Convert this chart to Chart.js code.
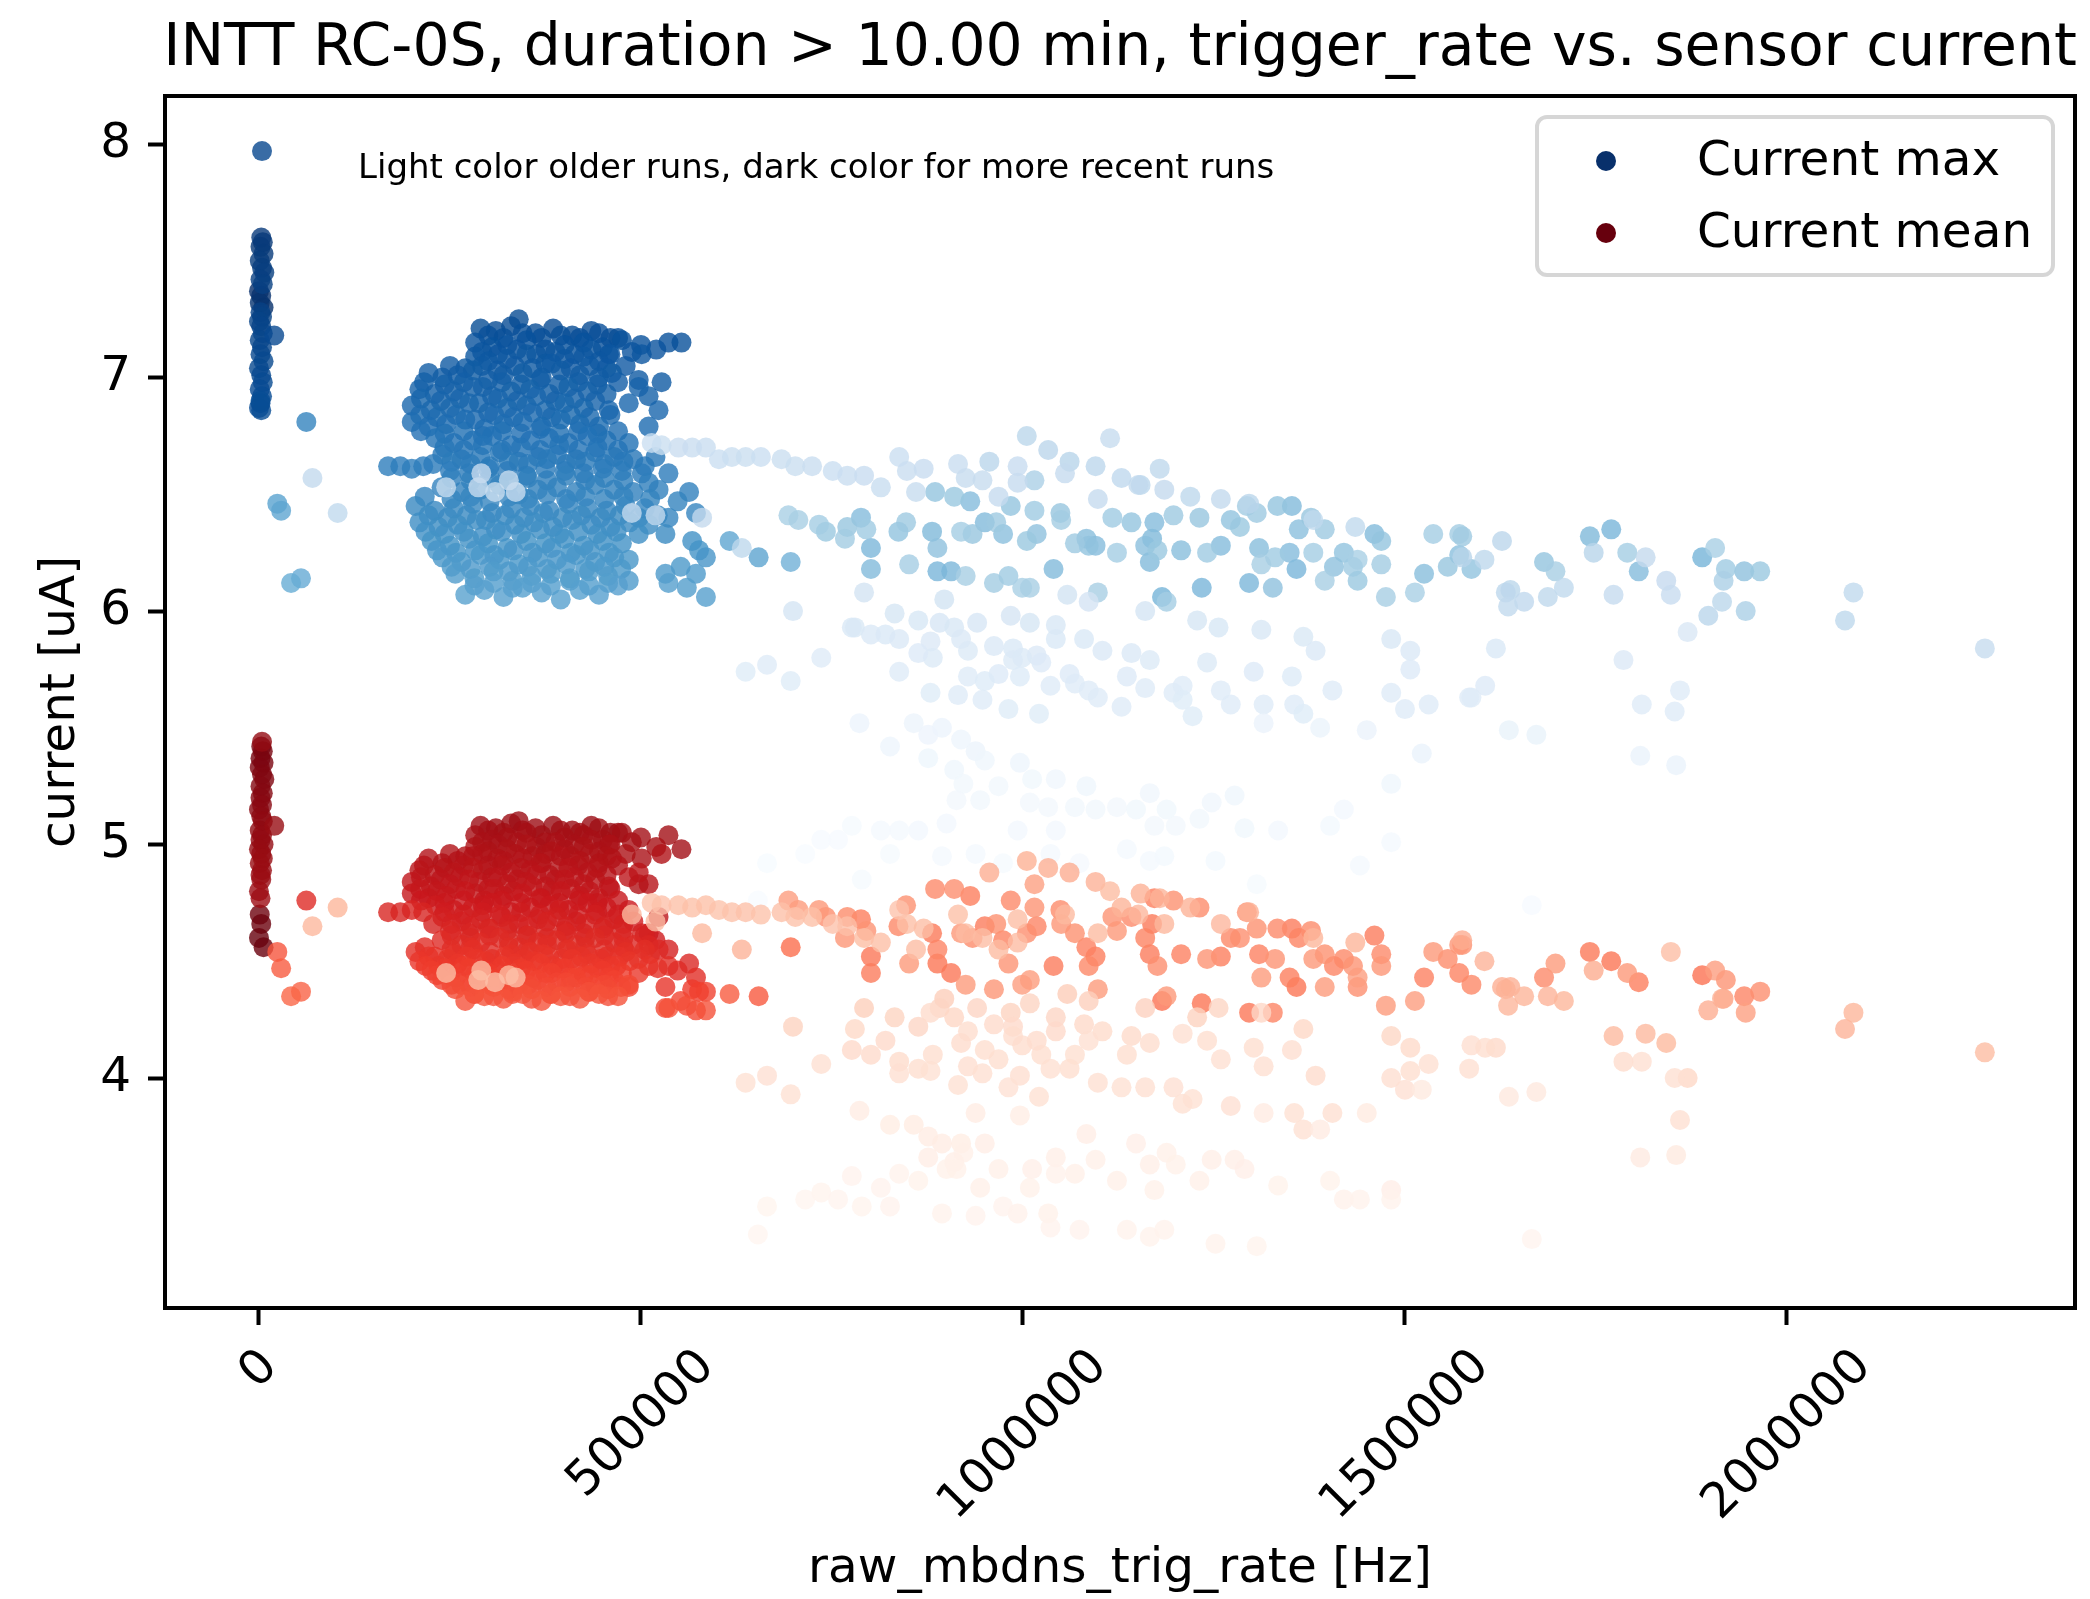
<!DOCTYPE html>
<html>
<head>
<meta charset="utf-8">
<script src="https://cdn.jsdelivr.net/npm/chart.js"></script>
<style>
  html, body { margin: 0; padding: 0; background: #fff; }
  #myChart { display: block; }
</style>
</head>
<body>
<canvas id="myChart" width="2090" height="1599"></canvas>
<script>
// ---- data: one entry per run (trigger rate, max current, mean current, run number) ----
// oldest runs
const rateP1 = [653000, 665000, 715000, 736000, 758000, 776000, 786000, 789000, 814000, 826000,
  826000, 838000, 857000, 863000, 876000, 876000, 894000, 894000, 900000, 910000,
  913000, 919000, 922000, 938000, 938000, 944000, 950000, 968000, 974000, 993000,
  996000, 1009000, 1012000, 1033000, 1036000, 1043000, 1043000, 1068000, 1074000, 1083000,
  1095000, 1123000, 1136000, 1148000, 1166000, 1166000, 1172000, 1185000, 1188000, 1200000,
  1231000, 1247000, 1252000, 1277000, 1290000, 1306000, 1315000, 1334000, 1389000, 1402000,
  1420000, 1441000, 1450000, 1482000, 1482000, 1522000, 1636000, 1666000, 1672000, 1808000,
  1855000];
const maxP1 = [4.76, 4.92, 4.96, 5.02, 5.02, 5.08, 5.52, 4.85, 5.06, 5.42,
  4.96, 5.06, 5.52, 5.06, 5.47, 5.37, 5.50, 4.95, 5.09, 5.32,
  5.19, 5.45, 5.26, 5.40, 4.96, 5.19, 5.36, 5.25, 4.92, 5.06,
  5.35, 5.18, 5.28, 5.16, 4.96, 5.28, 5.06, 5.16, 4.92, 5.25,
  5.15, 5.16, 4.98, 5.15, 5.22, 4.93, 5.08, 4.95, 5.15, 5.08,
  5.11, 5.18, 4.93, 5.21, 5.07, 4.83, 5.52, 5.06, 5.50, 5.08,
  5.15, 4.91, 5.49, 5.26, 5.01, 5.39, 5.49, 4.74, 5.47, 5.38,
  5.34];
const meanP1 = [3.33, 3.45, 3.48, 3.51, 3.48, 3.58, 3.86, 3.45, 3.53, 3.80,
  3.45, 3.59, 3.80, 3.56, 3.75, 3.66, 3.72, 3.42, 3.61, 3.64,
  3.61, 3.72, 3.68, 3.85, 3.41, 3.53, 3.72, 3.61, 3.45, 3.42,
  3.84, 3.53, 3.61, 3.42, 3.36, 3.66, 3.59, 3.59, 3.35, 3.76,
  3.65, 3.56, 3.35, 3.72, 3.63, 3.32, 3.52, 3.35, 3.68, 3.63,
  3.56, 3.65, 3.29, 3.65, 3.61, 3.28, 3.85, 3.54, 3.78, 3.56,
  3.48, 3.48, 3.85, 3.52, 3.48, 3.95, 3.92, 3.31, 3.94, 3.66,
  3.67];
const runP1 = [41000, 41040, 41020, 41090, 41060, 41130, 41710, 41110, 41180, 41650,
  41150, 41230, 41760, 41270, 41690, 41580, 41730, 41200, 41310, 41520,
  41350, 41670, 41400, 41740, 41170, 41380, 41560, 41420, 41140, 41290,
  41620, 41360, 41450, 41330, 41190, 41480, 41300, 41390, 41160, 41540,
  41410, 41370, 41210, 41470, 41500, 41220, 41340, 41240, 41440, 41320,
  41430, 41490, 41250, 41510, 41460, 41120, 41800, 41280, 41780, 41260,
  41300, 41230, 41820, 41530, 41210, 41900, 41950, 41080, 42000, 41850,
  41880];

// older runs
const rateP2 = [637000, 665000, 696000, 699000, 736000, 776000, 780000, 792000, 801000, 820000,
  832000, 838000, 838000, 863000, 863000, 879000, 879000, 882000, 891000, 897000,
  910000, 915000, 919000, 928000, 928000, 940000, 947000, 950000, 962000, 968000,
  981000, 984000, 987000, 987000, 996000, 999000, 1009000, 1018000, 1021000, 1024000,
  1036000, 1043000, 1043000, 1058000, 1061000, 1068000, 1080000, 1086000, 1086000, 1098000,
  1104000, 1129000, 1136000, 1142000, 1160000, 1160000, 1166000, 1197000, 1209000, 1209000,
  1222000, 1228000, 1241000, 1256000, 1259000, 1272000, 1302000, 1312000, 1315000, 1352000,
  1355000, 1367000, 1367000, 1383000, 1405000, 1482000, 1482000, 1500000, 1507000, 1507000,
  1531000, 1584000, 1587000, 1605000, 1619000, 1786000, 1810000, 1853000, 1860000, 1870000];
const maxP2 = [5.74, 5.77, 5.70, 6.00, 5.80, 5.93, 5.93, 6.08, 5.90, 5.90,
  5.99, 5.88, 5.74, 5.96, 5.82, 5.87, 5.65, 5.80, 5.95, 6.05,
  5.93, 5.64, 5.88, 5.83, 5.72, 5.95, 5.62, 5.70, 5.85, 5.73,
  5.58, 5.98, 5.79, 5.84, 5.72, 5.80, 5.95, 5.81, 5.56, 5.78,
  5.68, 5.94, 5.88, 6.07, 5.73, 5.69, 5.88, 6.04, 5.66, 5.63,
  5.83, 5.59, 5.72, 5.82, 6.00, 5.67, 5.79, 5.65, 5.62, 5.68,
  5.55, 5.96, 5.78, 5.93, 5.66, 5.60, 5.74, 5.92, 5.60, 5.72,
  5.60, 5.89, 5.56, 5.83, 5.66, 5.88, 5.65, 5.58, 5.83, 5.75,
  5.60, 5.63, 5.63, 5.68, 5.84, 5.79, 5.60, 5.57, 5.66, 5.91];
const meanP2 = [3.98, 4.01, 3.93, 4.22, 4.06, 4.12, 4.21, 4.30, 4.10, 4.16,
  4.26, 4.07, 4.02, 4.22, 4.04, 4.28, 4.03, 4.10, 4.30, 4.34,
  4.26, 3.97, 4.15, 4.20, 4.05, 4.30, 4.02, 4.12, 4.23, 4.08,
  3.96, 4.28, 4.18, 4.22, 4.01, 4.14, 4.32, 4.16, 3.92, 4.10,
  4.04, 4.26, 4.20, 4.36, 4.04, 4.10, 4.23, 4.33, 4.16, 3.98,
  4.20, 3.96, 4.10, 4.18, 4.30, 3.96, 4.15, 3.96, 3.89, 4.19,
  3.91, 4.26, 4.16, 4.30, 4.08, 3.88, 4.13, 4.28, 4.05, 4.12,
  3.85, 4.21, 3.78, 4.01, 3.85, 4.18, 4.00, 3.95, 4.13, 4.03,
  4.06, 4.04, 4.14, 4.13, 4.13, 4.07, 4.07, 4.00, 3.82, 4.00];
const runP2 = [42610, 42650, 42630, 43300, 42700, 42980, 43020, 43450, 42900, 42940,
  43250, 42880, 42680, 43150, 42760, 42850, 42620, 42800, 43200, 43500,
  43100, 42640, 42870, 42840, 42720, 43180, 42660, 42740, 42910, 42780,
  42600, 43280, 42820, 42960, 42730, 42830, 43220, 42860, 42620, 42790,
  42700, 43130, 42950, 43550, 42750, 42710, 43000, 43420, 42690, 42670,
  42890, 42640, 42760, 42920, 43350, 42680, 42810, 42650, 42630, 42700,
  42610, 43260, 42800, 43160, 42690, 42650, 42770, 43080, 42660, 42730,
  42640, 43050, 42620, 42870, 42700, 43120, 42720, 42650, 42930, 42780,
  42680, 42700, 42720, 42780, 42990, 42850, 42690, 42660, 42700, 43060];

// light band
const rateP3 = [70000, 103000, 245000, 287000, 291000, 309000, 327000, 336000, 488000, 519000,
  580000, 632000, 514000, 527000, 549000, 567000, 585000, 602000, 619000, 637000,
  657000, 684000, 702000, 724000, 751000, 770000, 792000, 814000, 838000, 848000,
  860000, 870000, 915000, 925000, 947000, 956000, 968000, 993000, 993000, 1005000,
  1033000, 1055000, 1061000, 1095000, 1098000, 1114000, 1129000, 1151000, 1154000, 1179000,
  1185000, 1219000, 1259000, 1296000, 1380000, 1435000, 1575000, 1604000, 1627000, 1632000,
  1635000, 1638000, 1656000, 1687000, 1708000, 1747000, 1773000, 1815000, 1842000, 1848000,
  1897000, 1915000];
const maxP3 = [6.57, 6.42, 6.53, 6.53, 6.59, 6.51, 6.56, 6.51, 6.42, 6.41,
  6.40, 6.27, 6.72, 6.71, 6.70, 6.70, 6.70, 6.65, 6.66, 6.66,
  6.66, 6.65, 6.62, 6.62, 6.60, 6.58, 6.58, 6.53, 6.66, 6.60,
  6.51, 6.61, 6.63, 6.57, 6.56, 6.64, 6.49, 6.62, 6.55, 6.75,
  6.69, 6.59, 6.64, 6.62, 6.48, 6.74, 6.57, 6.54, 6.54, 6.61,
  6.52, 6.49, 6.48, 6.46, 6.39, 6.36, 6.23, 6.22, 6.30, 6.08,
  6.02, 6.09, 6.04, 6.06, 6.10, 6.25, 6.07, 6.23, 6.13, 6.07,
  5.98, 6.04];
const meanP3 = [4.65, 4.73, 4.45, 4.42, 4.46, 4.41, 4.44, 4.43, 4.70, 4.67,
  4.62, 4.55, 4.75, 4.74, 4.74, 4.73, 4.74, 4.72, 4.71, 4.71,
  4.70, 4.71, 4.69, 4.69, 4.66, 4.65, 4.60, 4.58, 4.72, 4.66,
  4.55, 4.64, 4.70, 4.62, 4.60, 4.88, 4.55, 4.68, 4.58, 4.93,
  4.90, 4.70, 4.88, 4.84, 4.62, 4.80, 4.73, 4.70, 4.79, 4.77,
  4.66, 4.73, 4.66, 4.71, 4.60, 4.58, 4.59, 4.50, 4.39, 4.38,
  4.31, 4.39, 4.35, 4.35, 4.33, 4.46, 4.18, 4.19, 4.15, 4.54,
  4.29, 4.34];
const runP3 = [44500, 44600, 44200, 44150, 44250, 44100, 44300, 44180, 44400, 44350,
  44450, 44700, 44050, 44080, 44120, 44160, 44140, 44020, 44060, 44090,
  44030, 44110, 44070, 44130, 44040, 44170, 44260, 44210, 44010, 44190,
  44280, 44230, 44150, 44320, 44270, 44900, 44380, 44240, 44340, 44800,
  44850, 44420, 44950, 44750, 44360, 44300, 44650, 44550, 44780, 44680,
  44480, 44720, 44520, 44880, 44580, 44620, 44960, 44700, 44850, 44760,
  44540, 44820, 44640, 44690, 44600, 44980, 44400, 44460, 44430, 44250,
  44900, 44820];

// mid-period runs spread over high rates
const rateP4 = [616000, 654000, 693000, 696000, 706000, 733000, 742000, 767000, 770000, 788000,
  795000, 801000, 801000, 837000, 847000, 851000, 881000, 885000, 888000, 888000,
  906000, 910000, 919000, 925000, 931000, 934000, 950000, 962000, 965000, 974000,
  981000, 984000, 999000, 1005000, 1009000, 1015000, 1015000, 1018000, 1040000, 1049000,
  1050000, 1068000, 1083000, 1086000, 1095000, 1098000, 1117000, 1123000, 1142000, 1160000,
  1166000, 1169000, 1172000, 1176000, 1182000, 1188000, 1197000, 1207000, 1231000, 1234000,
  1241000, 1259000, 1272000, 1284000, 1293000, 1296000, 1306000, 1309000, 1312000, 1327000,
  1330000, 1333000, 1349000, 1352000, 1358000, 1361000, 1377000, 1380000, 1395000, 1395000,
  1407000, 1420000, 1432000, 1438000, 1438000, 1460000, 1469000, 1469000, 1475000, 1513000,
  1525000, 1537000, 1556000, 1571000, 1571000, 1575000, 1587000, 1682000, 1697000, 1742000,
  1770000, 1791000, 1806000, 1889000, 1906000, 1917000, 1920000, 1944000, 1946000, 1965000,
  2076000, 2087000, 2259000];
const maxP4 = [6.30, 6.23, 6.41, 6.21, 6.39, 6.37, 6.34, 6.31, 6.36, 6.40,
  6.35, 6.27, 6.18, 6.34, 6.38, 6.20, 6.34, 6.51, 6.27, 6.17,
  6.17, 6.49, 6.34, 6.15, 6.47, 6.33, 6.38, 6.12, 6.38, 6.33,
  6.15, 6.45, 6.10, 6.30, 6.10, 6.56, 6.43, 6.33, 6.18, 6.42,
  6.39, 6.29, 6.31, 6.28, 6.28, 6.08, 6.40, 6.25, 6.38, 6.28,
  6.21, 6.31, 6.38, 6.26, 6.06, 6.04, 6.41, 6.26, 6.40, 6.10,
  6.25, 6.28, 6.39, 6.36, 6.45, 6.12, 6.42, 6.27, 6.20, 6.10,
  6.23, 6.45, 6.25, 6.45, 6.18, 6.35, 6.40, 6.25, 6.35, 6.13,
  6.19, 6.25, 6.19, 6.22, 6.13, 6.33, 6.30, 6.20, 6.06, 6.08,
  6.16, 6.33, 6.19, 6.33, 6.24, 6.32, 6.18, 6.21, 6.17, 6.32,
  6.35, 6.25, 6.17, 6.23, 6.27, 6.13, 6.18, 6.17, 6.00, 6.17,
  5.96, 6.08, 5.84];
const meanP4 = [4.36, 4.35, 4.76, 4.56, 4.72, 4.72, 4.69, 4.60, 4.69, 4.68,
  4.63, 4.52, 4.45, 4.65, 4.74, 4.49, 4.62, 4.81, 4.55, 4.49,
  4.45, 4.81, 4.62, 4.40, 4.78, 4.60, 4.65, 4.38, 4.66, 4.59,
  4.49, 4.76, 4.40, 4.62, 4.42, 4.83, 4.73, 4.65, 4.48, 4.72,
  4.66, 4.62, 4.56, 4.48, 4.52, 4.38, 4.69, 4.63, 4.69, 4.60,
  4.53, 4.66, 4.77, 4.48, 4.33, 4.35, 4.76, 4.53, 4.73, 4.32,
  4.51, 4.52, 4.60, 4.60, 4.71, 4.28, 4.64, 4.53, 4.43, 4.28,
  4.51, 4.64, 4.43, 4.64, 4.39, 4.60, 4.63, 4.51, 4.53, 4.39,
  4.48, 4.51, 4.48, 4.43, 4.39, 4.61, 4.53, 4.48, 4.31, 4.33,
  4.43, 4.54, 4.51, 4.57, 4.45, 4.57, 4.40, 4.43, 4.49, 4.54,
  4.50, 4.45, 4.41, 4.44, 4.46, 4.34, 4.42, 4.35, 4.28, 4.37,
  4.21, 4.28, 4.11];
const runP4 = [48300, 48350, 45600, 47600, 45700, 45800, 46200, 45900, 46300, 46900,
  46000, 47200, 47000, 46500, 46100, 45750, 47100, 46400, 46600, 47300,
  47200, 46200, 45800, 45700, 46900, 46300, 47000, 45900, 46100, 46700,
  46000, 46400, 45600, 46200, 45650, 45500, 46000, 46600, 47000, 46300,
  45900, 46100, 46800, 46500, 46900, 45700, 46000, 45800, 46400, 46700,
  47000, 47100, 46900, 46200, 47400, 45800, 46100, 46800, 46300, 47300,
  46000, 46900, 46500, 46200, 45900, 47200, 46100, 46800, 45700, 46600,
  46000, 46400, 46900, 47000, 47300, 46700, 46300, 45800, 46100, 45700,
  46600, 46500, 46000, 45600, 46200, 47000, 46400, 45900, 45700, 45600,
  46800, 45800, 46300, 45900, 46700, 46100, 46500, 46400, 45700, 47100,
  47300, 45800, 46900, 47400, 45600, 45500, 46000, 46600, 45500, 46200,
  44700, 44600, 44300];

// recent runs, 200-600 kHz cluster (one line per current level)
const rateP5 = [270000, 295000, 320000, 345000, 370000, 395000, 420000, 445000, 470000, 536000, 585000,
  257000, 282000, 307000, 332000, 357000, 382000, 407000, 432000, 457000, 484000, 532000, 572000,
  240000, 265000, 290000, 315000, 340000, 365000, 390000, 415000, 440000, 465000, 484000, 585000,
  226000, 250000, 275000, 300000, 325000, 350000, 375000, 400000, 425000, 450000, 475000, 567000,
  210000, 235000, 260000, 285000, 310000, 335000, 360000, 385000, 410000, 435000, 460000, 485000, 510000, 532000,
  205000, 230000, 255000, 280000, 305000, 330000, 355000, 380000, 405000, 430000, 455000, 480000, 505000, 536000, 572000,
  239000, 265000, 290000, 315000, 340000, 365000, 390000, 415000, 440000, 465000, 490000, 523000, 563000,
  169000, 185000, 200000, 215000, 250000, 275000, 300000, 325000, 350000, 375000, 400000, 425000, 450000, 475000, 501000, 536000,
  240000, 265000, 290000, 315000, 340000, 365000, 390000, 415000, 440000, 465000, 490000, 519000,
  231000, 255000, 280000, 305000, 330000, 355000, 380000, 405000, 430000, 455000, 484000,
  200000, 222000, 245000, 270000, 295000, 320000, 345000, 370000, 395000, 420000, 445000, 510000,
  200000, 225000, 250000, 275000, 300000, 325000, 350000, 375000, 400000, 425000, 458000, 484000, 523000,
  210000, 230000, 255000, 280000, 305000, 330000, 355000, 380000, 405000, 430000, 455000, 510000,
  222000, 240000, 260000, 280000, 300000, 320000, 345000, 370000, 395000, 420000, 445000, 462000, 497000, 527000,
  283000, 300000, 325000, 350000, 375000, 400000, 425000, 445000, 460000, 501000,
  283000, 305000, 325000, 350000, 375000, 400000, 425000, 450000, 475000, 500000, 536000, 553000,
  290000, 310000, 330000, 340000, 362000, 385000, 410000, 435000, 460000,
  24000, 29000, 42000, 55000, 62000];
const maxP5 = [6.07, 6.09, 6.06, 6.10, 6.08, 6.05, 6.09, 6.07, 6.11, 6.12, 6.06,
  6.16, 6.14, 6.17, 6.13, 6.15, 6.16, 6.14, 6.17, 6.15, 6.13, 6.16, 6.16,
  6.23, 6.21, 6.24, 6.22, 6.20, 6.23, 6.22, 6.24, 6.21, 6.23, 6.22, 6.23,
  6.30, 6.28, 6.31, 6.29, 6.27, 6.30, 6.29, 6.31, 6.28, 6.30, 6.29, 6.30,
  6.38, 6.36, 6.37, 6.39, 6.35, 6.37, 6.38, 6.36, 6.39, 6.37, 6.36, 6.38, 6.37, 6.33,
  6.45, 6.43, 6.44, 6.46, 6.42, 6.44, 6.45, 6.43, 6.46, 6.44, 6.43, 6.45, 6.44, 6.40, 6.42,
  6.53, 6.51, 6.52, 6.54, 6.50, 6.52, 6.53, 6.51, 6.54, 6.52, 6.51, 6.52, 6.51,
  6.62, 6.62, 6.61, 6.62, 6.60, 6.59, 6.61, 6.60, 6.58, 6.61, 6.60, 6.59, 6.61, 6.60, 6.59, 6.59,
  6.67, 6.65, 6.66, 6.68, 6.64, 6.66, 6.67, 6.65, 6.68, 6.66, 6.65, 6.66,
  6.74, 6.72, 6.73, 6.75, 6.71, 6.73, 6.74, 6.72, 6.75, 6.73, 6.72,
  6.81, 6.79, 6.80, 6.82, 6.78, 6.80, 6.81, 6.79, 6.82, 6.80, 6.79, 6.79,
  6.88, 6.86, 6.87, 6.89, 6.85, 6.87, 6.88, 6.86, 6.89, 6.87, 6.86, 6.89, 6.86,
  6.95, 6.93, 6.94, 6.96, 6.92, 6.94, 6.95, 6.93, 6.96, 6.94, 6.93, 6.92,
  7.02, 7.00, 7.01, 7.03, 6.99, 7.01, 7.02, 7.00, 7.03, 7.01, 7.00, 7.02, 6.99, 6.98,
  7.09, 7.07, 7.08, 7.10, 7.06, 7.08, 7.09, 7.07, 7.10, 7.10,
  7.15, 7.13, 7.14, 7.16, 7.12, 7.14, 7.15, 7.13, 7.16, 7.14, 7.15, 7.15,
  7.21, 7.20, 7.22, 7.25, 7.19, 7.21, 7.18, 7.20, 7.17,
  6.46, 6.43, 6.12, 6.14, 6.81];
const meanP5 = [4.33, 4.35, 4.34, 4.36, 4.33, 4.35, 4.34, 4.36, 4.35, 4.30, 4.29,
  4.38, 4.36, 4.39, 4.37, 4.38, 4.36, 4.39, 4.37, 4.38, 4.40, 4.30, 4.29,
  4.42, 4.40, 4.43, 4.41, 4.40, 4.42, 4.41, 4.43, 4.40, 4.42, 4.39, 4.37,
  4.46, 4.44, 4.47, 4.45, 4.44, 4.46, 4.45, 4.47, 4.44, 4.46, 4.45, 4.38,
  4.50, 4.48, 4.49, 4.51, 4.47, 4.49, 4.50, 4.48, 4.51, 4.49, 4.48, 4.50, 4.48, 4.39,
  4.54, 4.52, 4.53, 4.55, 4.51, 4.53, 4.54, 4.52, 4.55, 4.53, 4.52, 4.54, 4.55, 4.48, 4.43,
  4.59, 4.57, 4.58, 4.60, 4.56, 4.58, 4.59, 4.57, 4.60, 4.58, 4.57, 4.55, 4.49,
  4.71, 4.71, 4.72, 4.71, 4.63, 4.62, 4.64, 4.63, 4.61, 4.64, 4.63, 4.62, 4.64, 4.63, 4.62, 4.55,
  4.69, 4.67, 4.68, 4.70, 4.66, 4.68, 4.69, 4.67, 4.70, 4.68, 4.67, 4.59,
  4.74, 4.72, 4.73, 4.75, 4.71, 4.73, 4.74, 4.72, 4.75, 4.73, 4.72,
  4.79, 4.77, 4.78, 4.80, 4.76, 4.78, 4.79, 4.77, 4.80, 4.78, 4.77, 4.62,
  4.84, 4.82, 4.83, 4.85, 4.81, 4.83, 4.84, 4.82, 4.85, 4.83, 4.82, 4.86, 4.69,
  4.89, 4.87, 4.88, 4.90, 4.86, 4.88, 4.89, 4.87, 4.90, 4.88, 4.87, 4.83,
  4.94, 4.92, 4.93, 4.95, 4.91, 4.93, 4.94, 4.92, 4.95, 4.93, 4.92, 4.94, 4.83, 4.96,
  4.99, 4.97, 4.98, 5.00, 4.96, 4.98, 4.99, 4.97, 5.00, 4.94,
  5.04, 5.02, 5.03, 5.05, 5.01, 5.03, 5.04, 5.02, 5.05, 5.03, 5.04, 4.98,
  5.08, 5.07, 5.09, 5.10, 5.07, 5.08, 5.06, 5.08, 5.05,
  4.54, 4.47, 4.35, 4.37, 4.76];
const runP5 = [48560, 48580, 48570, 48600, 48590, 48620, 48610, 48640, 48630, 48650, 48660,
  48840, 48860, 48850, 48880, 48870, 48900, 48890, 48920, 48910, 48930, 48940, 48950,
  49120, 49140, 49130, 49160, 49150, 49180, 49170, 49200, 49190, 49210, 49220, 49230,
  49400, 49420, 49410, 49440, 49430, 49460, 49450, 49480, 49470, 49490, 49500, 49510,
  49680, 49700, 49690, 49720, 49710, 49740, 49730, 49760, 49750, 49770, 49780, 49790, 49800, 49810,
  49960, 49980, 49970, 50000, 49990, 50020, 50010, 50040, 50030, 50050, 50060, 50070, 50080, 50090, 50100,
  50240, 50260, 50250, 50280, 50270, 50300, 50290, 50320, 50310, 50330, 50340, 50350, 50360,
  50520, 50540, 50530, 50560, 50550, 50580, 50570, 50600, 50590, 50610, 50620, 50630, 50640, 50650, 50660, 50670,
  50800, 50820, 50810, 50840, 50830, 50860, 50850, 50880, 50870, 50890, 50900, 50910,
  51080, 51100, 51090, 51120, 51110, 51140, 51130, 51160, 51150, 51170, 51180,
  51360, 51380, 51370, 51400, 51390, 51420, 51410, 51440, 51430, 51450, 51460, 51470,
  51640, 51660, 51650, 51680, 51670, 51700, 51690, 51720, 51710, 51730, 51740, 51750, 51760,
  51920, 51940, 51930, 51960, 51950, 51980, 51970, 52000, 51990, 52010, 52020, 52030,
  52200, 52220, 52210, 52240, 52230, 52260, 52250, 52280, 52270, 52290, 52300, 52310, 52320, 52330,
  52480, 52500, 52490, 52520, 52510, 52540, 52530, 52560, 52550, 52570,
  52760, 52780, 52770, 52800, 52790, 52820, 52810, 52840, 52830, 52850, 52860, 52870,
  53040, 53060, 53050, 53080, 53070, 53100, 53090, 53120, 53110,
  48500, 48300, 47900, 48000, 50200];

// more runs of the same period, sitting between the levels above
const rateP5b = [282000, 307000, 332000, 357000, 382000, 407000, 432000, 457000, 560000,
  252000, 277000, 302000, 327000, 352000, 377000, 402000, 427000, 452000, 474000, 552000,
  233000, 258000, 283000, 308000, 333000, 358000, 383000, 408000, 433000, 458000, 576000,
  218000, 243000, 268000, 293000, 318000, 343000, 368000, 393000, 418000, 443000, 468000, 497000,
  222000, 247000, 272000, 297000, 322000, 347000, 372000, 397000, 422000, 447000, 472000, 497000, 522000,
  217000, 252000, 277000, 302000, 327000, 352000, 377000, 402000, 427000, 452000, 477000, 512000, 548000,
  252000, 277000, 302000, 327000, 352000, 377000, 402000, 427000, 452000, 477000, 510000,
  228000, 252000, 277000, 302000, 327000, 352000, 377000, 402000, 427000, 452000, 477000, 505000,
  243000, 268000, 293000, 318000, 343000, 368000, 393000, 418000, 443000, 470000,
  212000, 243000, 268000, 293000, 318000, 343000, 368000, 393000, 418000, 443000, 470000,
  211000, 233000, 258000, 283000, 308000, 333000, 358000, 383000, 408000, 433000, 460000,
  212000, 238000, 263000, 288000, 313000, 338000, 363000, 388000, 413000, 440000, 497000,
  216000, 243000, 268000, 293000, 318000, 343000, 368000, 393000, 418000, 443000, 470000,
  250000, 270000, 292000, 312000, 335000, 358000, 383000, 408000, 433000, 455000, 480000,
  292000, 313000, 338000, 363000, 388000, 413000, 435000, 458000, 488000, 520000,
  300000, 320000, 345000, 370000, 395000, 420000, 445000, 470000];
const maxP5b = [6.11, 6.12, 6.10, 6.12, 6.11, 6.13, 6.11, 6.12, 6.10,
  6.19, 6.18, 6.19, 6.17, 6.19, 6.18, 6.20, 6.18, 6.19, 6.18, 6.19,
  6.26, 6.25, 6.26, 6.24, 6.26, 6.25, 6.27, 6.25, 6.26, 6.25, 6.26,
  6.34, 6.33, 6.34, 6.32, 6.34, 6.33, 6.35, 6.33, 6.34, 6.33, 6.34, 6.33,
  6.41, 6.40, 6.41, 6.39, 6.41, 6.40, 6.42, 6.40, 6.41, 6.40, 6.41, 6.40, 6.41,
  6.49, 6.48, 6.49, 6.47, 6.49, 6.48, 6.50, 6.48, 6.49, 6.48, 6.49, 6.48, 6.47,
  6.57, 6.56, 6.57, 6.55, 6.57, 6.56, 6.58, 6.56, 6.57, 6.56, 6.55,
  6.63, 6.64, 6.63, 6.62, 6.64, 6.63, 6.65, 6.63, 6.64, 6.63, 6.64, 6.62,
  6.70, 6.69, 6.71, 6.69, 6.70, 6.69, 6.71, 6.69, 6.70, 6.69,
  6.77, 6.76, 6.77, 6.75, 6.77, 6.76, 6.78, 6.76, 6.77, 6.76, 6.77,
  6.84, 6.83, 6.84, 6.82, 6.84, 6.83, 6.85, 6.83, 6.84, 6.83, 6.84,
  6.91, 6.90, 6.91, 6.89, 6.91, 6.90, 6.92, 6.90, 6.91, 6.90, 6.96,
  6.98, 6.97, 6.98, 6.96, 6.98, 6.97, 6.99, 6.97, 6.98, 6.97, 6.98,
  7.05, 7.04, 7.05, 7.03, 7.05, 7.04, 7.06, 7.04, 7.05, 7.04, 7.05,
  7.11, 7.10, 7.12, 7.10, 7.11, 7.10, 7.12, 7.10, 7.11, 7.12,
  7.18, 7.17, 7.19, 7.17, 7.18, 7.17, 7.19, 7.17];
const meanP5b = [4.36, 4.35, 4.36, 4.34, 4.36, 4.35, 4.37, 4.35, 4.31,
  4.40, 4.39, 4.40, 4.38, 4.40, 4.39, 4.41, 4.39, 4.40, 4.39, 4.33,
  4.44, 4.43, 4.44, 4.42, 4.44, 4.43, 4.45, 4.43, 4.44, 4.43, 4.37,
  4.48, 4.47, 4.48, 4.46, 4.48, 4.47, 4.49, 4.47, 4.48, 4.47, 4.48, 4.45,
  4.52, 4.51, 4.52, 4.50, 4.52, 4.51, 4.53, 4.51, 4.52, 4.51, 4.52, 4.51, 4.47,
  4.56, 4.55, 4.56, 4.54, 4.56, 4.55, 4.57, 4.55, 4.56, 4.55, 4.56, 4.53, 4.46,
  4.61, 4.60, 4.61, 4.59, 4.61, 4.60, 4.62, 4.60, 4.61, 4.60, 4.57,
  4.66, 4.66, 4.65, 4.64, 4.66, 4.65, 4.67, 4.65, 4.66, 4.65, 4.66, 4.61,
  4.71, 4.70, 4.71, 4.69, 4.71, 4.70, 4.72, 4.70, 4.71, 4.70,
  4.76, 4.75, 4.76, 4.74, 4.76, 4.75, 4.77, 4.75, 4.76, 4.75, 4.76,
  4.81, 4.80, 4.81, 4.79, 4.81, 4.80, 4.82, 4.80, 4.81, 4.80, 4.81,
  4.86, 4.85, 4.86, 4.84, 4.86, 4.85, 4.87, 4.85, 4.86, 4.85, 4.88,
  4.91, 4.90, 4.91, 4.89, 4.91, 4.90, 4.92, 4.90, 4.91, 4.90, 4.91,
  4.96, 4.95, 4.96, 4.94, 4.96, 4.95, 4.97, 4.95, 4.96, 4.95, 4.96,
  5.01, 5.00, 5.01, 4.99, 5.01, 5.00, 5.02, 5.00, 5.01, 4.99,
  5.06, 5.05, 5.06, 5.04, 5.06, 5.05, 5.07, 5.05];
const runP5b = [48700, 48720, 48710, 48740, 48730, 48760, 48750, 48780, 48770,
  48980, 49000, 48990, 49020, 49010, 49040, 49030, 49060, 49050, 49070, 49080,
  49260, 49280, 49270, 49300, 49290, 49320, 49310, 49340, 49330, 49350, 49360,
  49540, 49560, 49550, 49580, 49570, 49600, 49590, 49620, 49610, 49630, 49640, 49650,
  49820, 49840, 49830, 49860, 49850, 49880, 49870, 49900, 49890, 49910, 49920, 49930, 49940,
  50100, 50120, 50110, 50140, 50130, 50160, 50150, 50180, 50170, 50190, 50200, 50210, 50220,
  50380, 50400, 50390, 50420, 50410, 50440, 50430, 50460, 50450, 50470, 50480,
  50660, 50680, 50670, 50700, 50690, 50720, 50710, 50740, 50730, 50750, 50760, 50770,
  50940, 50960, 50950, 50980, 50970, 51000, 50990, 51020, 51010, 51030,
  51220, 51240, 51230, 51260, 51250, 51280, 51270, 51300, 51290, 51310, 51320,
  51500, 51520, 51510, 51540, 51530, 51560, 51550, 51580, 51570, 51590, 51600,
  51780, 51800, 51790, 51820, 51810, 51840, 51830, 51860, 51850, 51870, 51880,
  52060, 52080, 52070, 52100, 52090, 52120, 52110, 52140, 52130, 52150, 52160,
  52340, 52360, 52350, 52380, 52370, 52400, 52390, 52420, 52410, 52430, 52440,
  52620, 52640, 52630, 52660, 52650, 52680, 52670, 52700, 52690, 52710,
  52900, 52920, 52910, 52940, 52930, 52960, 52950, 52980];

// latest runs, near-zero trigger rate
const rateP6 = [4000, 3000, 5000, 2000, 6000, 1000, 4000, 7000, 2000, 5000,
  0, 3000, 1000, 6000, 2000, 4000, 0, 20000, 3000, 5000,
  1000, 4000, 2000, 6000, 0, 3000, 5000, 1000, 4000, 2000,
  3000, 0, 2000];
const maxP6 = [7.97, 7.60, 7.58, 7.56, 7.53, 7.50, 7.47, 7.45, 7.42, 7.40,
  7.37, 7.35, 7.32, 7.30, 7.28, 7.26, 7.24, 7.18, 7.22, 7.19,
  7.16, 7.13, 7.10, 7.07, 7.04, 7.01, 6.98, 6.95, 6.92, 6.89,
  6.86, 6.87, 6.90];
const meanP6 = [5.44, 5.42, 5.40, 5.37, 5.35, 5.33, 5.30, 5.28, 5.25, 5.22,
  4.60, 4.66, 4.70, 4.56, 5.20, 5.17, 5.15, 5.08, 5.12, 5.10,
  5.06, 5.04, 5.02, 5.00, 4.98, 4.96, 4.94, 4.92, 4.89, 4.87,
  4.85, 4.80, 4.77];
const runP6 = [53300, 54000, 54050, 54100, 53950, 53900, 53850, 53800, 53750, 53700,
  54500, 54400, 54300, 54450, 53650, 53600, 53550, 53200, 53500, 53450,
  53400, 53350, 53320, 53280, 53250, 53220, 53180, 53150, 53120, 53100,
  53080, 53060, 53040];

const xTicks = [0, 500000, 1000000, 1500000, 2000000];
const yTicks = [4, 5, 6, 7, 8];
const seriesLabels = ['Current max', 'Current mean'];
const titleText = 'INTT RC-0S, duration > 10.00 min, trigger_rate vs. sensor current';
const noteText = 'Light color older runs, dark color for more recent runs';
const xTitle = 'raw_mbdns_trig_rate [Hz]';
const yTitle = 'current [uA]';

// ---- build ----
const rate = [].concat(rateP1, rateP2, rateP3, rateP4, rateP5, rateP5b, rateP6);
const curMax = [].concat(maxP1, maxP2, maxP3, maxP4, maxP5, maxP5b, maxP6);
const curMean = [].concat(meanP1, meanP2, meanP3, meanP4, meanP5, meanP5b, meanP6);
const runs = [].concat(runP1, runP2, runP3, runP4, runP5, runP5b, runP6);

const BLUES = ['#f7fbff', '#deebf7', '#c6dbef', '#9ecae1', '#6baed6', '#4292c6', '#2171b5', '#08519c', '#08306b'];
const REDS = ['#fff5f0', '#fee0d2', '#fcbba1', '#fc9272', '#fb6a4a', '#ef3b2c', '#cb181d', '#a50f15', '#67000d'];
const hexRgb = h => [1, 3, 5].map(i => parseInt(h.slice(i, i + 2), 16));
function cmap(stops, t, alpha) {
    t = Math.min(1, Math.max(0, t));
    const pos = t * (stops.length - 1);
    const i = Math.min(Math.floor(pos), stops.length - 2);
    const f = pos - i;
    const a = hexRgb(stops[i]), b = hexRgb(stops[i + 1]);
    const c = a.map((v, k) => Math.round(v + (b[k] - v) * f));
    return `rgba(${c[0]},${c[1]},${c[2]},${alpha})`;
}

const runMin = Math.min(...runs), runMax = Math.max(...runs);
// newest first, so the older (lighter) runs end up painted on top like in the original
const order = runs.map((_, i) => i).sort((a, b) => runs[b] - runs[a]);
const maxPts = [], meanPts = [], maxCols = [], meanCols = [];
order.forEach(i => {
    const t = (runs[i] - runMin) / (runMax - runMin);
    maxPts.push({ x: rate[i], y: curMax[i] });
    meanPts.push({ x: rate[i], y: curMean[i] });
    maxCols.push(cmap(BLUES, t, 0.8));
    meanCols.push(cmap(REDS, t, 0.8));
});

const FONT = '"DejaVu Sans", sans-serif';
Chart.defaults.font.family = FONT;

const decorations = {
    id: 'decorations',
    afterDatasetsDraw(chart) {
        const { ctx, chartArea: a } = chart;
        ctx.save();
        ctx.lineWidth = 4;
        ctx.strokeStyle = '#000';
        ctx.strokeRect(a.left, a.top, a.right - a.left, a.bottom - a.top);
        ctx.restore();
    },
    afterDraw(chart) {
        const { ctx, chartArea: a } = chart;
        const xs = chart.scales.x;
        const midX = (a.left + a.right) / 2;
        ctx.save();
        ctx.fillStyle = '#000';
        ctx.textBaseline = 'alphabetic';

        ctx.font = '58.4px ' + FONT;
        ctx.textAlign = 'center';
        ctx.fillText(titleText, midX, 65);

        ctx.font = '34px ' + FONT;
        ctx.textAlign = 'left';
        ctx.fillText(noteText, 358, 178);

        // x tick labels at 45 deg, bounding box centred under the tick (matplotlib style)
        ctx.font = '48.5px ' + FONT;
        const h = 47, desc = 10, top = a.bottom + 34;
        xs.ticks.forEach(t => {
            const label = String(t.value);
            const w = ctx.measureText(label).width;
            const px = xs.getPixelForValue(t.value);
            ctx.save();
            ctx.translate(px - 0.3536 * (w - h), top + 0.7071 * (w + h));
            ctx.rotate(-Math.PI / 4);
            ctx.textAlign = 'left';
            ctx.fillText(label, 0, -desc);
            ctx.restore();
        });

        ctx.textAlign = 'center';
        ctx.fillText(xTitle, midX, 1582);
        ctx.save();
        ctx.translate(74, (a.top + a.bottom) / 2);
        ctx.rotate(-Math.PI / 2);
        ctx.fillText(yTitle, 0, 0);
        ctx.restore();

        // legend box
        const lw = 516, lh = 158, lx = a.right - 22 - lw, ly = a.top + 21, r = 10;
        ctx.beginPath();
        ctx.moveTo(lx + r, ly);
        ctx.arcTo(lx + lw, ly, lx + lw, ly + lh, r);
        ctx.arcTo(lx + lw, ly + lh, lx, ly + lh, r);
        ctx.arcTo(lx, ly + lh, lx, ly, r);
        ctx.arcTo(lx, ly, lx + lw, ly, r);
        ctx.closePath();
        ctx.fillStyle = 'rgba(255,255,255,0.8)';
        ctx.fill();
        ctx.lineWidth = 4;
        ctx.strokeStyle = 'rgba(204,204,204,0.8)';
        ctx.stroke();
        const swatch = ['#08306b', '#67000d'];
        ctx.font = '48.5px ' + FONT;
        chart.data.datasets.forEach((ds, i) => {
            const base = ly + 58 + i * 72;
            ctx.fillStyle = swatch[i];
            ctx.beginPath();
            ctx.arc(lx + 69, base - 14, 10, 0, Math.PI * 2);
            ctx.fill();
            ctx.fillStyle = '#000';
            ctx.textAlign = 'left';
            ctx.fillText(ds.label, lx + 160, base);
        });
        ctx.restore();
    }
};

const tickGrid = { drawOnChartArea: false, drawTicks: true, tickLength: 17, tickWidth: 4, tickColor: '#000' };

new Chart(document.getElementById('myChart'), {
    type: 'scatter',
    data: {
        datasets: [
            { label: seriesLabels[0], data: maxPts, pointBackgroundColor: maxCols, order: 2 },
            { label: seriesLabels[1], data: meanPts, pointBackgroundColor: meanCols, order: 1 },
        ],
    },
    options: {
        responsive: false,
        animation: false,
        devicePixelRatio: 1,
        layout: { padding: { top: 96, right: 15, left: 0, bottom: 0 } },
        elements: { point: { radius: 10, hoverRadius: 10, borderWidth: 0, hitRadius: 0 } },
        plugins: { legend: { display: false }, tooltip: { enabled: false }, title: { display: false } },
        scales: {
            x: {
                type: 'linear', min: -123000, max: 2377000,
                afterBuildTicks: s => { s.ticks = xTicks.map(v => ({ value: v })); },
                afterFit: s => { s.height = 291; },
                ticks: { display: false },
                grid: tickGrid,
                border: { display: false },
            },
            y: {
                type: 'linear', min: 3.015, max: 8.206,
                afterBuildTicks: s => { s.ticks = yTicks.map(v => ({ value: v })); },
                afterFit: s => { s.width = 165; },
                ticks: { padding: 17, color: '#000', font: { size: 48.5, family: FONT } },
                grid: tickGrid,
                border: { display: false },
            },
        },
    },
    plugins: [decorations],
});
</script>
</body>
</html>
